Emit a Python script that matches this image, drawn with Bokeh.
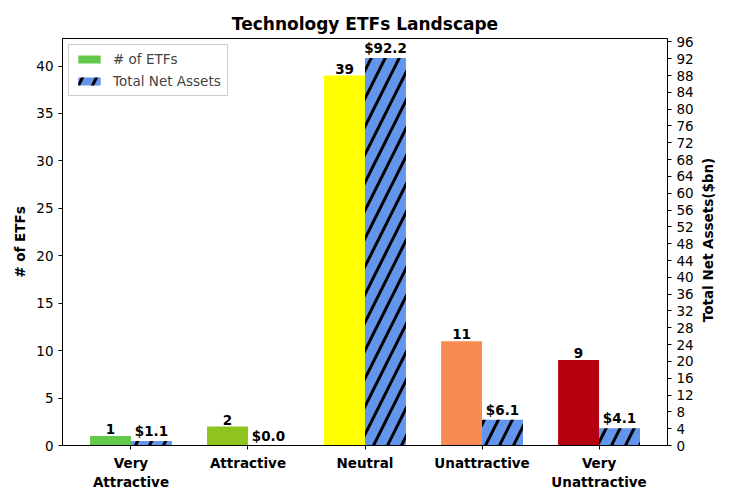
import math
from bokeh.plotting import figure
from bokeh.layouts import row
from bokeh.models import (ColumnDataSource, Range1d, LinearAxis, FixedTicker,
                          Legend, LegendItem, Label)
from bokeh.core.properties import value
from bokeh.embed import file_html
from bokeh.resources import INLINE

# data
categories = ["Very\nAttractive", "Attractive", "Neutral", "Unattractive", "Very\nUnattractive"]
num_etfs = [1, 2, 39, 11, 9]
net_assets = [1.1, 0.0, 92.2, 6.1, 4.1]
etf_colors = ["#63c94a", "#8fc41f", "#ffff00", "#f88a52", "#b5000f"]

FONT = "DejaVu Sans"
w = 0.35
xs = list(range(len(categories)))

src = ColumnDataSource(dict(
    x_etf=[x - w / 2 for x in xs],
    x_ast=[x + w / 2 for x in xs],
    etfs=num_etfs,
    assets=net_assets,
    color=etf_colors,
    etf_lbl=[str(v) for v in num_etfs],
    ast_lbl=["$%.1f" % v for v in net_assets],
))

H = 500
MT, MB = 38, 55
fig = figure(width=696, height=H, output_backend="svg", toolbar_location=None,
             x_range=Range1d(-0.585, 4.585), y_range=Range1d(0, max(num_etfs) * 1.1),
             title="Technology ETFs Landscape",
             min_border_left=62, min_border_right=28, min_border_top=MT, min_border_bottom=MB)
fig.extra_y_ranges = {"assets": Range1d(0, max(net_assets) * 1.05)}

fig.title.align = "center"
fig.title.offset = 17
fig.title.text_font = FONT
fig.title.text_font_size = "17px"
fig.title.text_font_style = "bold"
fig.title.text_color = "black"

fig.grid.visible = False
fig.outline_line_color = "black"
fig.outline_line_width = 1

# bars
r1 = fig.vbar(x="x_etf", top="etfs", width=w, fill_color="color", line_color=None, source=src)
r2 = fig.vbar(x="x_ast", top="assets", width=w, fill_color="cornflowerblue", line_color=None,
              hatch_pattern="/", hatch_color="black", hatch_scale=28, hatch_weight=3,
              y_range_name="assets", source=src)

# value labels
fig.text(x="x_etf", y="etfs", text="etf_lbl", source=src, text_align="center",
         text_baseline="bottom", y_offset=-2, text_font=value(FONT),
         text_font_size="13.5px", text_font_style="bold")
fig.text(x="x_ast", y="assets", text="ast_lbl", source=src, text_align="center",
         text_baseline="bottom", y_offset=-2, text_font=value(FONT),
         text_font_size="13.5px", text_font_style="bold", y_range_name="assets")

# axes
fig.xaxis.ticker = FixedTicker(ticks=xs)
fig.xaxis.major_label_overrides = {i: c for i, c in enumerate(categories)}
fig.xaxis.major_label_text_font_style = "bold"
fig.yaxis.ticker = FixedTicker(ticks=list(range(0, 45, 5)))
fig.yaxis.axis_label = "# of ETFs"

right = LinearAxis(y_range_name="assets",
                   ticker=FixedTicker(ticks=list(range(0, 97, 4))))
fig.add_layout(right, "right")

for ax in fig.axis:
    ax.major_label_text_font = FONT
    ax.major_label_text_font_size = "13.5px"
    ax.major_label_text_color = "black"
    ax.axis_label_text_font = FONT
    ax.axis_label_text_font_size = "13.5px"
    ax.axis_label_text_font_style = "bold"
    ax.axis_label_text_color = "black"
    ax.minor_tick_line_color = None
    ax.major_tick_in = 0
    ax.major_tick_out = 4
    ax.axis_line_color = "black"
    ax.major_tick_line_color = "black"

legend = Legend(items=[LegendItem(label="# of ETFs", renderers=[r1], index=0),
                       LegendItem(label="Total Net Assets", renderers=[r2], index=0)],
                location="top_left", label_text_font=FONT, label_text_font_size="13.5px",
                border_line_color="#cccccc", border_line_alpha=1, background_fill_alpha=0.8,
                margin=6, padding=6, spacing=6, label_standoff=10,
                glyph_width=28, glyph_height=10)
fig.add_layout(legend)

# right-hand axis title in its own strip, reading bottom to top
strip = figure(width=34, height=H, output_backend="svg", toolbar_location=None,
               x_range=Range1d(0, 34), y_range=Range1d(0, H),
               x_axis_type=None, y_axis_type=None, min_border=0)
strip.outline_line_color = None
strip.grid.visible = False
strip.add_layout(Label(x=11, y=MB + (H - MT - MB) / 2 - 6, text="Total Net Assets($bn)",
                       angle=math.pi / 2, text_align="center", text_baseline="middle",
                       text_font=FONT, text_font_size="13.5px", text_font_style="bold",
                       text_color="black"))

p = row(fig, strip)

open("out.html", "w").write(file_html(p, INLINE))
